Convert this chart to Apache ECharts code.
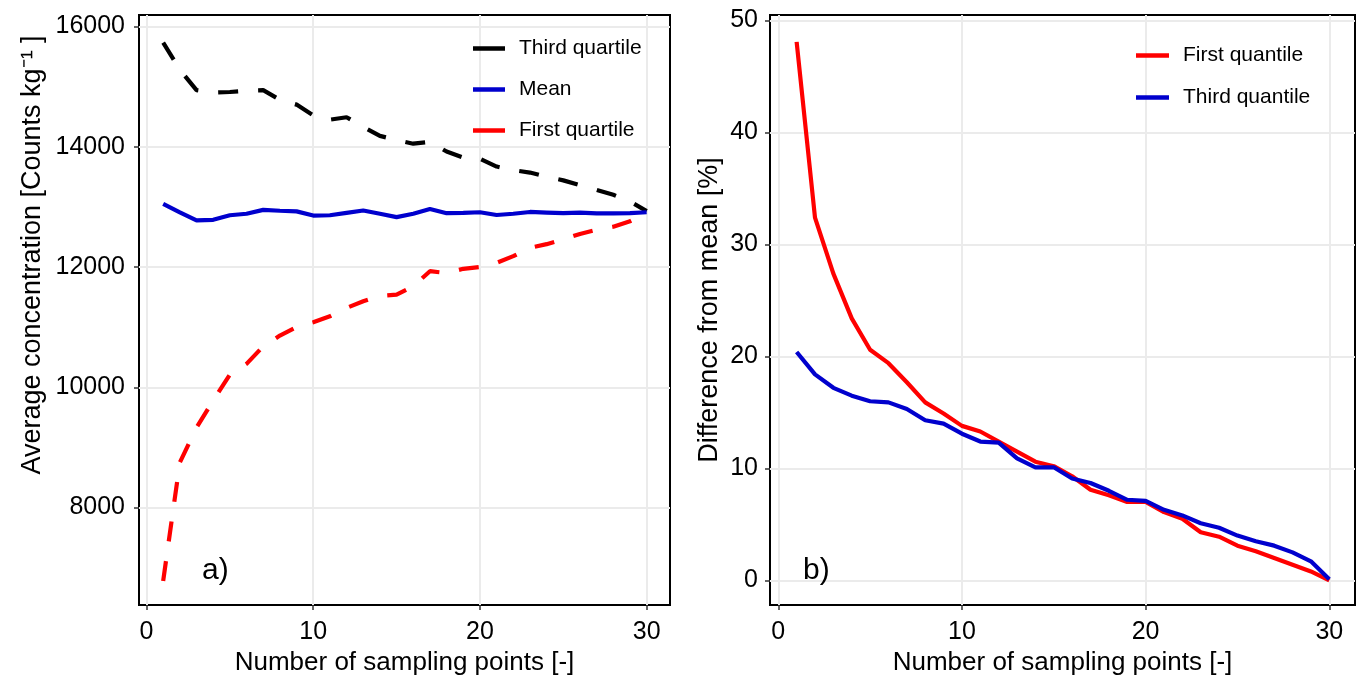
<!DOCTYPE html>
<html>
<head>
<meta charset="utf-8">
<script src="https://cdn.jsdelivr.net/npm/echarts@6/dist/echarts.min.js"></script>
<style>
  html, body { margin: 0; padding: 0; background: #fff; }
  #chart { width: 1363px; height: 678px; }
</style>
</head>
<body>
<div id="chart"></div>
<script>
// x: number of sampling points
const samplingPoints = [1, 2, 3, 4, 5, 6, 7, 8, 9, 10, 11, 12, 13, 14, 15, 16, 17, 18, 19, 20, 21, 22, 23, 24, 25, 26, 27, 28, 29, 30];

// panel a) average concentration
const thirdQuartile = [15730, 15280, 14940, 14900, 14910, 14930, 14940, 14780, 14700, 14520, 14450, 14490, 14330, 14180, 14110, 14050, 14080, 13920, 13820, 13800, 13670, 13610, 13570, 13500, 13440, 13360, 13280, 13200, 13090, 12930];
const meanValues = [13050, 12910, 12775, 12785, 12860, 12885, 12950, 12935, 12925, 12855, 12860, 12900, 12940, 12885, 12830, 12885, 12965, 12895, 12900, 12910, 12865, 12885, 12915, 12905, 12895, 12905, 12890, 12890, 12895, 12910];
const firstQuartile = [6780, 8750, 9330, 9780, 10210, 10390, 10680, 10860, 11000, 11080, 11180, 11320, 11430, 11520, 11540, 11680, 11930, 11900, 11970, 12000, 12070, 12180, 12320, 12380, 12460, 12550, 12620, 12670, 12760, 12900];

// panel b) difference from mean [%]
const firstQuantile = [48.1, 32.4, 27.4, 23.4, 20.6, 19.4, 17.7, 15.9, 14.9, 13.8, 13.3, 12.4, 11.5, 10.6, 10.2, 9.3, 8.1, 7.6, 7.0, 7.0, 6.1, 5.5, 4.3, 3.9, 3.1, 2.6, 2.0, 1.4, 0.8, 0];
const thirdQuantile = [20.4, 18.4, 17.2, 16.5, 16.0, 15.9, 15.3, 14.3, 14.0, 13.1, 12.4, 12.3, 10.9, 10.1, 10.1, 9.1, 8.7, 8.0, 7.2, 7.1, 6.3, 5.8, 5.1, 4.7, 4.0, 3.5, 3.1, 2.5, 1.7, 0.1];

// tick labels
const xTicks = [0, 10, 20, 30];
const yTicksA = [8000, 10000, 12000, 14000, 16000];
const yTicksB = [0, 10, 20, 30, 40, 50];

const FONT = '"Liberation Sans", Arial, Helvetica, sans-serif';
const pairs = (arr) => samplingPoints.map((x, i) => [x, arr[i]]);

const chart = echarts.init(document.getElementById('chart'), null, { renderer: 'canvas' });

// shared axis look (ggplot theme_bw style)
const valueAxis = (ticks, margin, extra) => Object.assign({
  type: 'value',
  axisLine: { show: false, onZero: false },
  axisTick: { show: true, customValues: ticks, length: 5, lineStyle: { color: '#333', width: 1.5 } },
  axisLabel: { customValues: ticks, color: '#000', fontSize: 25, fontFamily: FONT, margin: margin, formatter: (v) => String(v) },
  splitLine: { show: true, lineStyle: { color: '#ebebeb', width: 2 } },
  nameLocation: 'middle',
  nameTextStyle: { color: '#000', fontSize: 26, fontFamily: FONT }
}, extra);

const legendText = (pad) => ({ fontSize: 21, lineHeight: 21, color: '#000', fontFamily: FONT, padding: [0, 0, 0, pad] });

const option = {
  animation: false,
  backgroundColor: '#fff',
  title: [
    { text: 'a)', left: 197, top: 551, textStyle: { fontSize: 30, fontWeight: 'normal', color: '#000', fontFamily: FONT } },
    { text: 'b)', left: 798, top: 551, textStyle: { fontSize: 30, fontWeight: 'normal', color: '#000', fontFamily: FONT } }
  ],
  grid: [
    { left: 139, top: 15, width: 531, height: 590, outerBoundsMode: 'none', show: true, borderColor: '#000', borderWidth: 2, backgroundColor: 'transparent' },
    { left: 770, top: 15, width: 585, height: 590, outerBoundsMode: 'none', show: true, borderColor: '#000', borderWidth: 2, backgroundColor: 'transparent' }
  ],
  legend: [
    {
      data: ['Third quartile', 'Mean', 'First quartile'],
      orient: 'vertical', left: 468, top: 33,
      icon: 'rect', itemWidth: 32, itemHeight: 4.5, itemGap: 20,
      textStyle: legendText(9)
    },
    {
      data: ['First quantile', 'Third quantile'],
      orient: 'vertical', left: 1131, top: 40,
      icon: 'rect', itemWidth: 33, itemHeight: 4.5, itemGap: 21,
      textStyle: legendText(9)
    }
  ],
  xAxis: [
    valueAxis(xTicks, 15, { gridIndex: 0, min: -0.45, max: 31.4, name: 'Number of sampling points [-]', nameGap: 42 }),
    valueAxis(xTicks, 15, { gridIndex: 1, min: -0.45, max: 31.4, name: 'Number of sampling points [-]', nameGap: 42 })
  ],
  yAxis: [
    valueAxis(yTicksA, 14, { gridIndex: 0, min: 6380, max: 16190, name: 'Average concentration [Counts kg\u207B\u00B9 ]', nameGap: 93,
      nameTextStyle: { color: '#000', fontSize: 27, fontFamily: FONT, padding: [0, 0, 0, 110] } }),
    valueAxis(yTicksB, 12, { gridIndex: 1, min: -2.2, max: 50.5, name: 'Difference from mean [%]', nameGap: 47,
      nameTextStyle: { color: '#000', fontSize: 27, fontFamily: FONT } })
  ],
  series: [
    {
      name: 'Third quartile', type: 'line', xAxisIndex: 0, yAxisIndex: 0, symbol: 'none',
      data: pairs(thirdQuartile), color: '#000000',
      lineStyle: { color: '#000000', width: 4.2, type: [20, 20] }
    },
    {
      name: 'Mean', type: 'line', xAxisIndex: 0, yAxisIndex: 0, symbol: 'none',
      data: pairs(meanValues), color: '#0000cd',
      lineStyle: { color: '#0000cd', width: 4.2 }
    },
    {
      name: 'First quartile', type: 'line', xAxisIndex: 0, yAxisIndex: 0, symbol: 'none',
      data: pairs(firstQuartile), color: '#ff0000',
      lineStyle: { color: '#ff0000', width: 4.2, type: [20, 20] }
    },
    {
      name: 'First quantile', type: 'line', xAxisIndex: 1, yAxisIndex: 1, symbol: 'none',
      data: pairs(firstQuantile), color: '#ff0000',
      lineStyle: { color: '#ff0000', width: 4.2 }
    },
    {
      name: 'Third quantile', type: 'line', xAxisIndex: 1, yAxisIndex: 1, symbol: 'none',
      data: pairs(thirdQuantile), color: '#0000cd',
      lineStyle: { color: '#0000cd', width: 4.2 }
    }
  ]
};

chart.setOption(option);
</script>
</body>
</html>
